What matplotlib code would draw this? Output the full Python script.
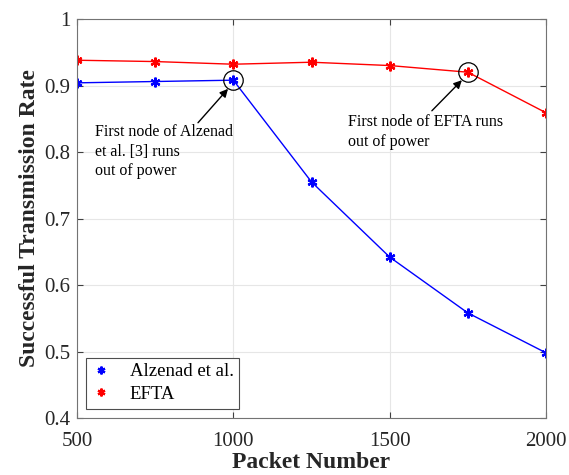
import matplotlib
matplotlib.use("Agg")
import matplotlib.pyplot as plt

# --- Data ---
packets = [500, 750, 1000, 1250, 1500, 1750, 2000]
rate_alzenad = [0.904, 0.906, 0.908, 0.755, 0.642, 0.558, 0.498]
rate_efta = [0.938, 0.936, 0.932, 0.935, 0.930, 0.920, 0.859]

x_ticks = [500, 1000, 1500, 2000]
y_ticks = [0.4, 0.5, 0.6, 0.7, 0.8, 0.9, 1.0]
y_ticklabels = ["0.4", "0.5", "0.6", "0.7", "0.8", "0.9", "1"]

plt.rcParams["font.family"] = ["Liberation Serif", "DejaVu Serif"]

fig = plt.figure(figsize=(5.69, 4.75), dpi=100)
ax = fig.add_axes([77 / 569, 1 - 418 / 475, 469 / 569, 399 / 475])

star = (6, 2, 0)
ax.plot(packets, rate_alzenad, color="blue", linewidth=1.0, marker=star,
        markersize=7, markeredgewidth=1.6, label="Alzenad et al.")
ax.plot(packets, rate_efta, color="red", linewidth=1.0, marker=star,
        markersize=7, markeredgewidth=1.6, label="EFTA")

# circles marking the first dead node
ax.plot([packets[2]], [rate_alzenad[2]], marker="o", markersize=14,
        markerfacecolor="none", markeredgecolor="black", markeredgewidth=0.9)
ax.plot([packets[5]], [rate_efta[5]], marker="o", markersize=14,
        markerfacecolor="none", markeredgecolor="black", markeredgewidth=0.9)

ax.annotate("", xy=(983, 0.895), xytext=(887, 0.844),
            arrowprops=dict(arrowstyle="-|>", color="black", lw=1.0,
                            mutation_scale=12, shrinkA=0, shrinkB=0))
ax.annotate("", xy=(1731, 0.908), xytext=(1635, 0.862),
            arrowprops=dict(arrowstyle="-|>", color="black", lw=1.0,
                            mutation_scale=12, shrinkA=0, shrinkB=0))
ax.text(557, 0.842, "First node of Alzenad\net al. [3] runs\nout of power",
        fontsize=11.5, va="top", ha="left", linespacing=1.3)
ax.text(1367, 0.857, "First node of EFTA runs\nout of power",
        fontsize=11.5, va="top", ha="left", linespacing=1.3)

ax.set_xlim(500, 2000)
ax.set_ylim(0.4, 1.0)
ax.set_xticks(x_ticks)
ax.set_yticks(y_ticks)
ax.set_yticklabels(y_ticklabels)
ax.tick_params(direction="in", labelsize=15, length=4, top=True, right=True,
               color="0.25", labelcolor="0.15")
ax.tick_params(axis="x", pad=10)
ax.tick_params(axis="y", pad=5)
for s in ax.spines.values():
    s.set_color("0.45")
    s.set_linewidth(0.8)
ax.grid(True, color="0.9", linewidth=0.8)
ax.set_axisbelow(True)

ax.set_xlabel("Packet Number", fontsize=17, fontweight="bold", color="0.15",
              labelpad=1)
ax.set_ylabel("Successful Transmission Rate", fontsize=17, fontweight="bold",
              color="0.15", labelpad=3)

leg = ax.legend(loc="lower left", fontsize=13.5, handlelength=1.0,
                fancybox=False, edgecolor="0.3", framealpha=1,
                borderaxespad=0.5, handletextpad=1.0, labelspacing=0.3,
                borderpad=0.3, markerscale=0.8)
for line in leg.get_lines():
    line.set_linestyle("none")
leg.get_frame().set_linewidth(0.8)

fig.savefig("out.png", dpi=100)
